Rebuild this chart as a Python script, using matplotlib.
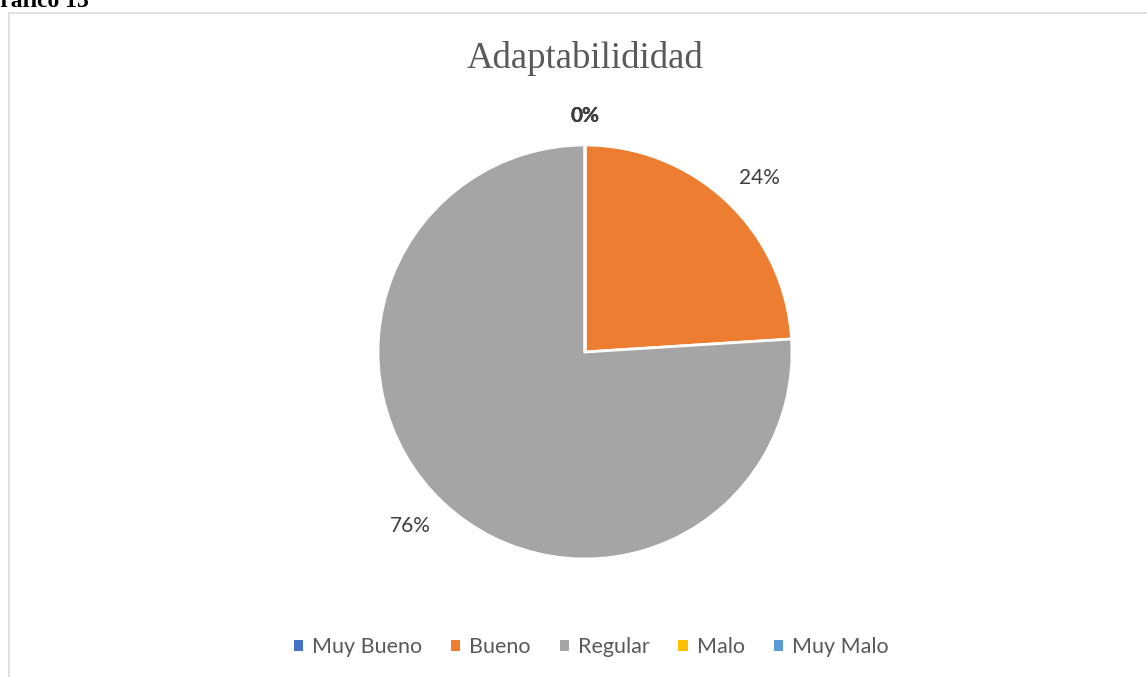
import matplotlib
matplotlib.use('Agg')
import matplotlib.pyplot as plt
import matplotlib.patches as mpatches
import numpy as np

categories = ['Muy Bueno', 'Bueno', 'Regular', 'Malo', 'Muy Malo']
values = [0, 24, 76, 0, 0]
colors = ['#4472C4', '#ED7D31', '#A5A5A5', '#FFC000', '#5B9BD5']
title = 'Adaptabilididad'

W, H = 1147, 677
fig = plt.figure(figsize=(W / 100, H / 100), dpi=100)
fig.patch.set_facecolor('white')

# chart frame (cut off at right/bottom like the screenshot)
fig.patches.append(mpatches.Rectangle((9 / W, -0.05), 1.2, 1 - 13 / H + 0.05,
                                      transform=fig.transFigure, fill=False,
                                      edgecolor='#D9D9D9', linewidth=1.2))

# partially cut caption at top-left
fig.text(89 / W, 1 - 7 / H, 'Gráfico 13', ha='right', va='baseline',
         fontsize=17, fontweight='bold', family='Liberation Serif', color='black')

cx, cy, r = 585, 352, 207
ax = fig.add_axes([(cx - r) / W, 1 - (cy + r) / H, 2 * r / W, 2 * r / H])
wedges, _ = ax.pie(values, colors=colors, startangle=90, counterclock=False,
                   radius=1, wedgeprops=dict(edgecolor='white', linewidth=2))
ax.set_xlim(-1, 1)
ax.set_ylim(-1, 1)
ax.axis('off')

# data labels "outside end": box corner sits on the mid-angle ray
total = sum(values)
for w, v in zip(wedges, values):
    mid = np.deg2rad((w.theta1 + w.theta2) / 2)
    c, s = np.cos(mid), np.sin(mid)
    ha = 'left' if c > 0.1 else ('right' if c < -0.1 else 'center')
    va = 'bottom' if s > 0 else 'top'
    d = 1.09
    ax.text(d * c, d * s, f'{round(100 * v / total)}%',
            ha=ha, va=va, fontsize=15, family='Lato',
            color='#404040', fontweight='bold' if v == 0 else 'normal',
            clip_on=False)

fig.text(cx / W, 1 - 58 / H, title, ha='center', va='center', fontsize=26.5,
         family='Liberation Serif', color='#595959')

handles = [mpatches.Patch(facecolor=c, edgecolor='none', label=l)
           for c, l in zip(colors, categories)]
leg = fig.legend(handles=handles, loc='center', bbox_to_anchor=(591 / W, 1 - 647 / H),
                 ncol=5, frameon=False, prop=dict(family='Lato', size=15.5),
                 handlelength=0.42, handleheight=0.42, handletextpad=0.42,
                 columnspacing=1.35, labelcolor='#595959')

fig.savefig('out.png', dpi=100)
